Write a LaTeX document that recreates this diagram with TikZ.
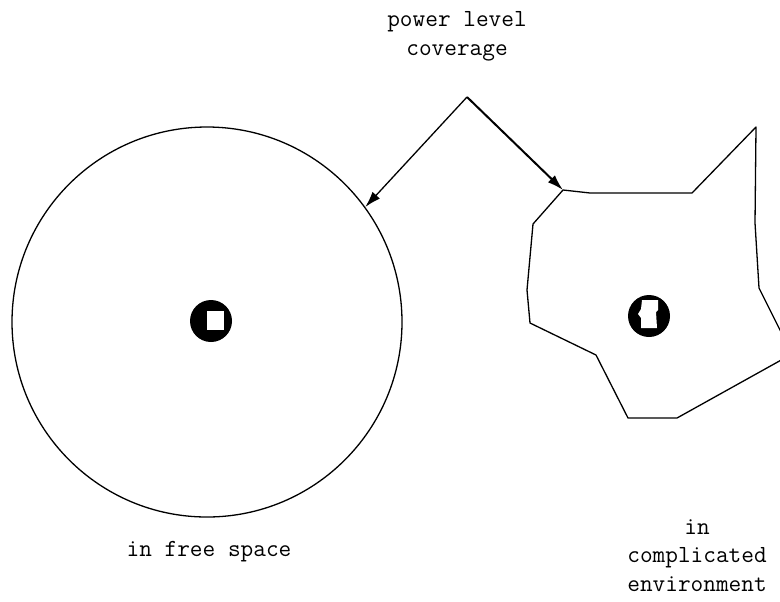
\documentclass[tikz,border=0pt]{standalone}
\usepackage{fontspec}
\usetikzlibrary{arrows.meta}
\tikzset{every picture/.style={line width=0.65pt}}

\begin{document}
\begin{tikzpicture}[x=0.5pt,y=-0.5pt,
    caption/.style={font=\ttfamily\fontsize{12.3}{14.2}\selectfont, align=center, inner sep=0pt},
    source/.style={circle, fill=black, minimum size=21pt, inner sep=0pt},
    pointer/.style={-{Latex[length=8pt,width=5pt]}}]
    \useasboundingbox (0,0) rectangle (780,601);

    % 标题
    \node[caption, anchor=north] (title) at (457,11) {power level\\coverage};
    \coordinate (from) at (467,97);

    % 自由空间
    \node[circle, draw, minimum size=195pt, inner sep=0pt] (free) at (207,322) {};
    \node[source] (txl) at (211,321) {};
    \fill[white] (207,311) rectangle (224,330);
    \node[caption, anchor=north] (lblfree) at (209,541) {in free space};

    % 复杂环境
    \coordinate (tip) at (563,190);
    \begin{scope}
        \clip (0,0) rectangle (780,601);
        \draw[line join=round] (tip) -- (590,193) -- (692,193) -- (756,127) -- (755,223)
            -- (759,288) -- (792,354) -- (677,418) -- (628,418) -- (596,355)
            -- (530,323) -- (527,290) -- (533,224) -- cycle;
    \end{scope}
    \node[source] (txr) at (649,316) {};
    \fill[white] (642,300) -- (658,300) -- (658,310) -- (656,312) -- (657,328)
        -- (641,328) -- (641,318) -- (638,314) -- (641,309) -- cycle;
    \node[caption, anchor=north] (lblcomp) at (697,519) {in\\complicated\\environment};

    % 箭头
    \draw[pointer] (from) -- (free.36);
    \draw[pointer, line width=1pt] (from) -- (tip);
\end{tikzpicture}
\end{document}
